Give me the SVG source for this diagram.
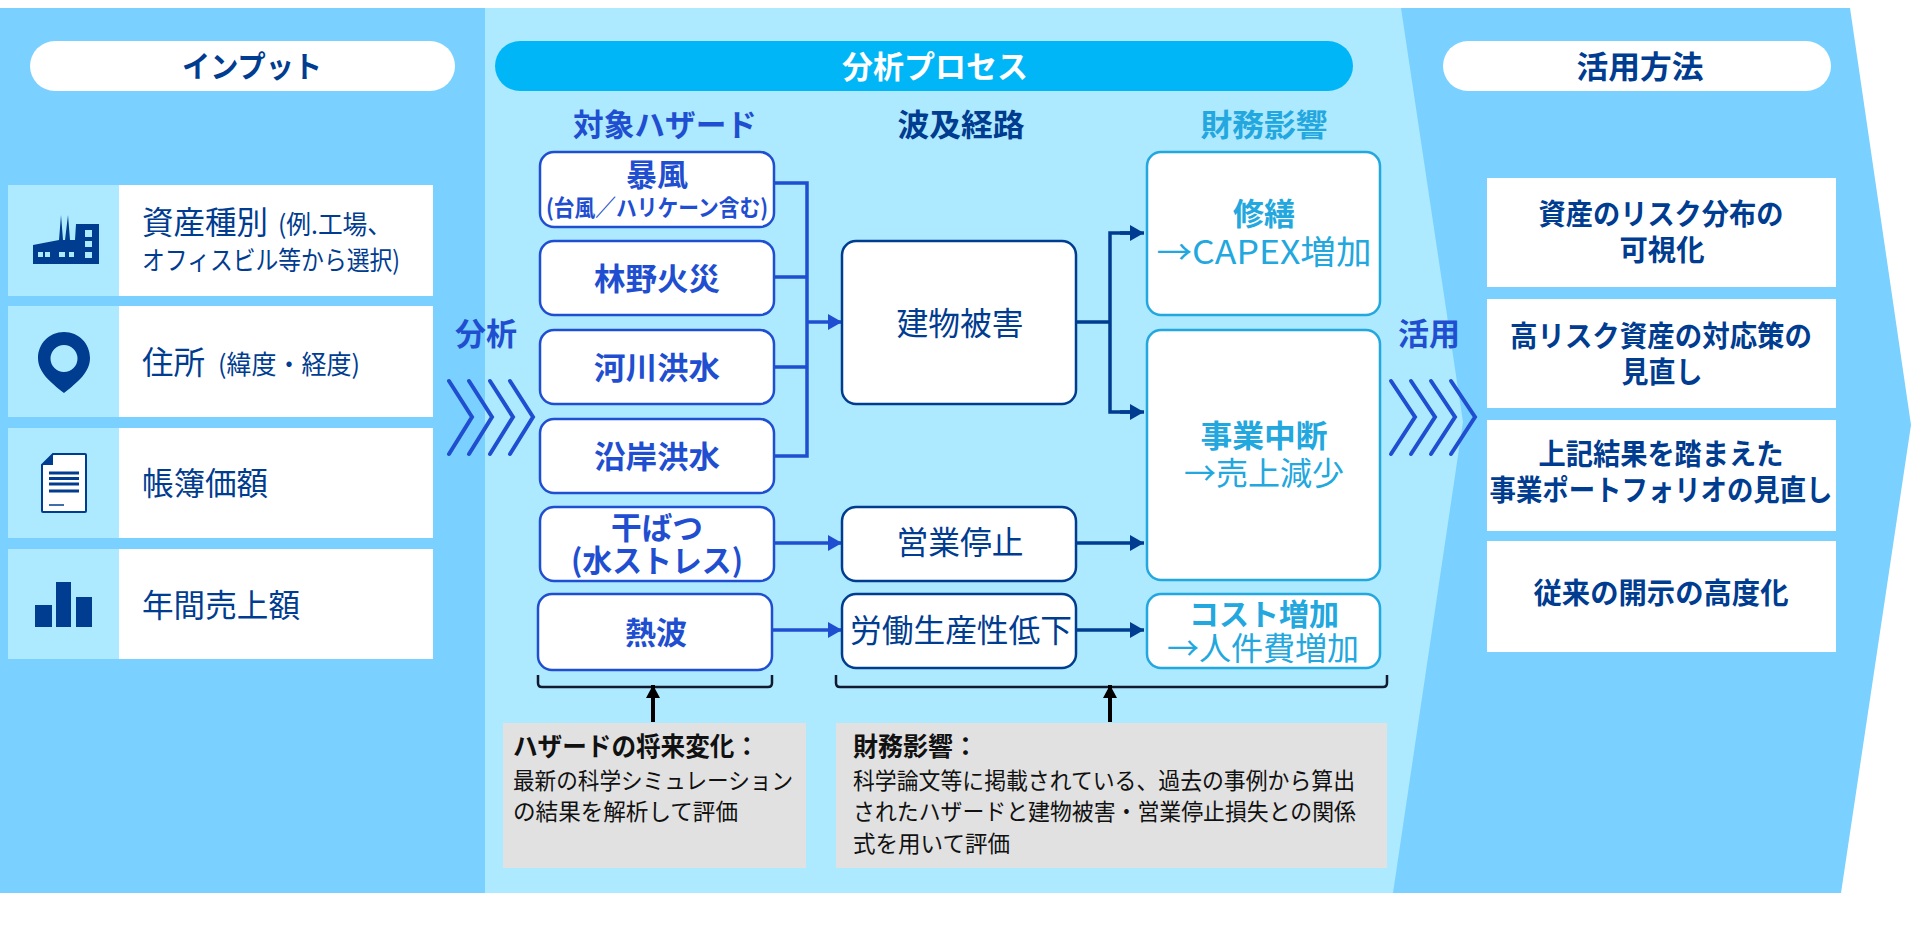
<svg xmlns="http://www.w3.org/2000/svg" width="1912" height="925" viewBox="0 0 1912 925">
<defs>
<style>
text{font-family:"Noto Sans CJK JP","Noto Sans",sans-serif}
.b{font-weight:700}
.m{text-anchor:middle}
.navy{fill:#003C8F}.blue{fill:#1F4FD0}.cyan{fill:#22A7DE}.blk{fill:#111}
.hz{fill:#fff;stroke:#1F4FD0;stroke-width:2.5}
.pw{fill:#fff;stroke:#003C8F;stroke-width:2.5}
.im{fill:#fff;stroke:#22A7DE;stroke-width:2.5}
.ln{fill:none;stroke-width:3.5}
.chev{fill:none;stroke:#1F4FD0;stroke-width:4;stroke-linecap:round;stroke-linejoin:miter}
.ic{fill:#003C8F}
</style>
<marker id="ah-b" markerUnits="userSpaceOnUse" markerWidth="14" markerHeight="16" refX="14" refY="8" orient="auto"><path d="M0 0L14 8L0 16Z" fill="#1F4FD0"/></marker>
<marker id="ah-n" markerUnits="userSpaceOnUse" markerWidth="14" markerHeight="16" refX="14" refY="8" orient="auto"><path d="M0 0L14 8L0 16Z" fill="#003C8F"/></marker>
<marker id="ah-k" markerUnits="userSpaceOnUse" markerWidth="13" markerHeight="14" refX="13" refY="7" orient="auto"><path d="M0 0L13 7L0 14Z" fill="#000"/></marker>
</defs>
<rect width="1912" height="925" fill="#fff"/>
<g id="panels">
<rect x="0" y="8" width="486" height="885" fill="#7AD0FF"/>
<rect x="485" y="8" width="980" height="885" fill="#ADE9FF"/>
<path d="M1401 8H1850L1911 425L1841 893H1393L1463 422Z" fill="#7AD0FF"/>
</g>
<g id="input-header"><rect x="30" y="41" width="425" height="50" rx="25" fill="#fff"/><text class="b m navy" x="252" y="77" font-size="30" lengthAdjust="spacingAndGlyphs" textLength="140">インプット</text></g>
<g id="input-asset-type">
<rect x="8" y="185" width="425" height="111" fill="#fff"/><rect x="8" y="185" width="111" height="111" fill="#ADE9FF"/>
<path class="ic" d="M33 245L59 240L61 215L63 240L65 240L68 215L70 240L75 240L76 224H99V264H33Z"/>
<g fill="#ADE9FF"><rect x="38" y="252" width="5" height="5"/><rect x="45" y="252" width="5" height="5"/><rect x="59" y="252" width="6" height="5"/><rect x="69" y="252" width="5" height="5"/><rect x="85" y="230" width="7" height="7"/><rect x="85" y="241" width="7" height="6"/><rect x="85" y="252" width="7" height="6"/></g>
<text class="navy" x="142" y="234" font-size="32" lengthAdjust="spacingAndGlyphs" textLength="126">資産種別</text><text class="navy" x="278" y="234" font-size="26" lengthAdjust="spacingAndGlyphs" textLength="114">(例.工場、</text>
<text class="navy" x="142" y="270" font-size="26" lengthAdjust="spacingAndGlyphs" textLength="258">オフィスビル等から選択)</text>
</g>
<g id="input-address">
<rect x="8" y="306" width="425" height="111" fill="#fff"/><rect x="8" y="306" width="111" height="111" fill="#ADE9FF"/>
<path class="ic" fill-rule="evenodd" d="M64 332C79 332 90 344 90 358C90 372 78 382 64 393C50 382 38 372 38 358C38 344 49 332 64 332ZM64 345A13.500 13.500 0 1 0 64 372A13.500 13.500 0 1 0 64 345Z"/>
<text class="navy" x="142" y="374" font-size="32" lengthAdjust="spacingAndGlyphs" textLength="63">住所</text><text class="navy" x="218" y="374" font-size="26" lengthAdjust="spacingAndGlyphs" textLength="142">(緯度・経度)</text>
</g>
<g id="input-book-value">
<rect x="8" y="428" width="425" height="110" fill="#fff"/><rect x="8" y="428" width="111" height="110" fill="#ADE9FF"/>
<path d="M53 454H85a1 1 0 0 1 1 1V511a1 1 0 0 1-1 1H43a1 1 0 0 1-1-1V465Z" fill="#fff" stroke="#003C8F" stroke-width="2"/>
<path class="ic" d="M42 465L53 454V465Z"/>
<path d="M49 473H79M49 478.500H79M49 484H79M49 491H79" stroke="#003C8F" stroke-width="3"/><path d="M49 505H64" stroke="#003C8F" stroke-width="1.500"/>
<text class="navy" x="142" y="495" font-size="32" lengthAdjust="spacingAndGlyphs" textLength="126">帳簿価額</text>
</g>
<g id="input-revenue">
<rect x="8" y="549" width="425" height="110" fill="#fff"/><rect x="8" y="549" width="111" height="110" fill="#ADE9FF"/>
<path class="ic" d="M35 605H52V627H35ZM56 582H71V627H56ZM76 597H92V627H76Z"/>
<text class="navy" x="142" y="617" font-size="32" lengthAdjust="spacingAndGlyphs" textLength="158">年間売上額</text>
</g>

<g id="analysis-label"><text class="b m blue" x="486" y="345" font-size="31">分析</text>
<path class="chev" d="M449 381L472 417L449 454M469 381L492 417L469 454M490 381L513 417L490 454M510 381L533 417L510 454"/></g>

<g id="process-header"><rect x="495" y="41" width="858" height="50" rx="25" fill="#00B6F7"/><text class="b m" x="935" y="78" font-size="31" fill="#fff" lengthAdjust="spacingAndGlyphs" textLength="186">分析プロセス</text></g>
<text id="h-hazard" class="b m blue" x="665" y="136" font-size="31" lengthAdjust="spacingAndGlyphs" textLength="184">対象ハザード</text>
<text id="h-path" class="b m navy" x="961" y="136" font-size="31" lengthAdjust="spacingAndGlyphs" textLength="127">波及経路</text>
<text id="h-impact" class="b m cyan" x="1264" y="136" font-size="31" lengthAdjust="spacingAndGlyphs" textLength="127">財務影響</text>

<g id="connectors">
<g class="ln" stroke="#1F4FD0"><path d="M774 183H807V456H774M774 277H807M774 367H807"/><path d="M807 322H842" marker-end="url(#ah-b)"/><path d="M774 543H842" marker-end="url(#ah-b)"/><path d="M772 630H842" marker-end="url(#ah-b)"/></g>
<g class="ln" stroke="#003C8F"><path d="M1076 322H1110"/><path d="M1132 233H1110V412H1132" fill="none"/><path d="M1120 233H1144" marker-end="url(#ah-n)"/><path d="M1120 412H1144" marker-end="url(#ah-n)"/><path d="M1076 543H1144" marker-end="url(#ah-n)"/><path d="M1076 630H1144" marker-end="url(#ah-n)"/></g>
<g fill="none" stroke="#111A2E" stroke-width="2.500"><path d="M538 675V683Q538 687 542 687H768Q772 687 772 683V675"/><path d="M836 675V683Q836 687 840 687H1383Q1387 687 1387 683V675"/></g>
<path d="M653 722V685" stroke="#000" stroke-width="4" fill="none" marker-end="url(#ah-k)"/>
<path d="M1110 722V685" stroke="#000" stroke-width="4" fill="none" marker-end="url(#ah-k)"/>
</g>

<g id="hz-storm"><rect class="hz" x="540" y="152" width="234" height="75" rx="14"/><text class="b m blue" x="657" y="186" font-size="31" lengthAdjust="spacingAndGlyphs" textLength="62">暴風</text><text class="b m blue" x="657" y="216" font-size="23" lengthAdjust="spacingAndGlyphs" textLength="222">(台風／ハリケーン含む)</text></g>
<g id="hz-wildfire"><rect class="hz" x="540" y="241" width="234" height="74" rx="14"/><text class="b m blue" x="657" y="290" font-size="31" lengthAdjust="spacingAndGlyphs" textLength="126">林野火災</text></g>
<g id="hz-river"><rect class="hz" x="540" y="330" width="234" height="74" rx="14"/><text class="b m blue" x="657" y="379" font-size="31" lengthAdjust="spacingAndGlyphs" textLength="126">河川洪水</text></g>
<g id="hz-coast"><rect class="hz" x="540" y="419" width="234" height="74" rx="14"/><text class="b m blue" x="657" y="468" font-size="31" lengthAdjust="spacingAndGlyphs" textLength="126">沿岸洪水</text></g>
<g id="hz-drought"><rect class="hz" x="540" y="507" width="234" height="74" rx="14"/><text class="b m blue" x="657" y="539" font-size="31" lengthAdjust="spacingAndGlyphs" textLength="92">干ばつ</text><text class="b m blue" x="657" y="572" font-size="31" lengthAdjust="spacingAndGlyphs" textLength="172">(水ストレス)</text></g>
<g id="hz-heat"><rect class="hz" x="538" y="594" width="234" height="76" rx="14"/><text class="b m blue" x="656" y="644" font-size="31" lengthAdjust="spacingAndGlyphs" textLength="62">熱波</text></g>

<g id="pw-building"><rect class="pw" x="842" y="241" width="234" height="163" rx="14"/><text class="m navy" x="960" y="335" font-size="32" lengthAdjust="spacingAndGlyphs" textLength="127">建物被害</text></g>
<g id="pw-outage"><rect class="pw" x="842" y="507" width="234" height="74" rx="14"/><text class="m navy" x="960" y="554" font-size="32" lengthAdjust="spacingAndGlyphs" textLength="127">営業停止</text></g>
<g id="pw-labor"><rect class="pw" x="842" y="594" width="234" height="74" rx="14"/><text class="m navy" x="961" y="642" font-size="32" lengthAdjust="spacingAndGlyphs" textLength="222">労働生産性低下</text></g>

<g id="im-repair"><rect class="im" x="1147" y="152" width="233" height="163" rx="14"/><text class="b m cyan" x="1264" y="225" font-size="31" lengthAdjust="spacingAndGlyphs" textLength="62">修繕</text><text class="m cyan" x="1264" y="264" font-size="33" lengthAdjust="spacingAndGlyphs" textLength="215">→CAPEX増加</text></g>
<g id="im-interrupt"><rect class="im" x="1147" y="330" width="233" height="250" rx="14"/><text class="b m cyan" x="1264" y="447" font-size="31" lengthAdjust="spacingAndGlyphs" textLength="127">事業中断</text><text class="m cyan" x="1264" y="485" font-size="32" lengthAdjust="spacingAndGlyphs" textLength="160">→売上減少</text></g>
<g id="im-cost"><rect class="im" x="1147" y="594" width="233" height="74" rx="14"/><text class="b m cyan" x="1264" y="625" font-size="30" lengthAdjust="spacingAndGlyphs" textLength="150">コスト増加</text><text class="m cyan" x="1263" y="660" font-size="32" lengthAdjust="spacingAndGlyphs" textLength="192">→人件費増加</text></g>

<g id="note-hazard"><rect x="503" y="723" width="303" height="145" fill="#E1E1E1"/><text class="b blk" x="513" y="756" font-size="26" lengthAdjust="spacingAndGlyphs" textLength="246">ハザードの将来変化：</text><text class="blk" x="513" y="789" font-size="23" lengthAdjust="spacingAndGlyphs" textLength="280">最新の科学シミュレーション</text><text class="blk" x="513" y="820" font-size="23" lengthAdjust="spacingAndGlyphs" textLength="225">の結果を解析して評価</text></g>
<g id="note-finance"><rect x="836" y="723" width="551" height="145" fill="#E1E1E1"/><text class="b blk" x="853" y="756" font-size="26" lengthAdjust="spacingAndGlyphs" textLength="125">財務影響：</text><text class="blk" x="853" y="789" font-size="23" lengthAdjust="spacingAndGlyphs" textLength="502">科学論文等に掲載されている、過去の事例から算出</text><text class="blk" x="853" y="820" font-size="23" lengthAdjust="spacingAndGlyphs" textLength="503">されたハザードと建物被害・営業停止損失との関係</text><text class="blk" x="853" y="852" font-size="23" lengthAdjust="spacingAndGlyphs" textLength="157">式を用いて評価</text></g>

<g id="use-label"><text class="b m blue" x="1429" y="345" font-size="31">活用</text>
<path class="chev" d="M1391 381L1415 417L1391 454M1411 381L1435 417L1411 454M1431 381L1455 417L1431 454M1451 381L1475 417L1451 454"/></g>

<g id="use-header"><rect x="1443" y="41" width="388" height="50" rx="25" fill="#fff"/><text class="b m navy" x="1640" y="78" font-size="31" lengthAdjust="spacingAndGlyphs" textLength="127">活用方法</text></g>
<g id="use-1"><rect x="1487" y="178" width="349" height="109" fill="#fff"/><text class="b m navy" x="1661" y="225" font-size="29" lengthAdjust="spacingAndGlyphs" textLength="245">資産のリスク分布の</text><text class="b m navy" x="1662" y="261" font-size="29" lengthAdjust="spacingAndGlyphs" textLength="85">可視化</text></g>
<g id="use-2"><rect x="1487" y="299" width="349" height="109" fill="#fff"/><text class="b m navy" x="1661" y="347" font-size="29" lengthAdjust="spacingAndGlyphs" textLength="302">高リスク資産の対応策の</text><text class="b m navy" x="1662" y="383" font-size="29" lengthAdjust="spacingAndGlyphs" textLength="81">見直し</text></g>
<g id="use-3"><rect x="1487" y="420" width="349" height="111" fill="#fff"/><text class="b m navy" x="1661" y="465" font-size="29" lengthAdjust="spacingAndGlyphs" textLength="245">上記結果を踏まえた</text><text class="b m navy" x="1661" y="501" font-size="29" lengthAdjust="spacingAndGlyphs" textLength="343">事業ポートフォリオの見直し</text></g>
<g id="use-4"><rect x="1487" y="541" width="349" height="111" fill="#fff"/><text class="b m navy" x="1661" y="604" font-size="29" lengthAdjust="spacingAndGlyphs" textLength="255">従来の開示の高度化</text></g>
</svg>
